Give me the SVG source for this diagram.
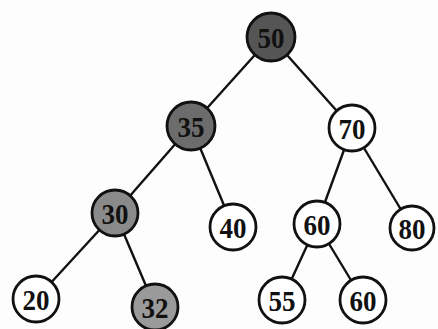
<svg xmlns="http://www.w3.org/2000/svg" width="438" height="329" viewBox="0 0 438 329">
<style>
.n circle{stroke:#111;stroke-width:2.8}
.n text{font-family:"Liberation Serif","Times New Roman",serif;font-weight:bold;font-size:29px;fill:#111;text-anchor:middle;dominant-baseline:central}
#edges line{stroke:#111;stroke-width:2.4}
</style>
<rect width="438" height="329" fill="#fdfdfd"/>
<g id="edges">
<line x1="271" y1="37" x2="191" y2="126"/>
<line x1="271" y1="37" x2="352" y2="128"/>
<line x1="191" y1="126" x2="115" y2="213"/>
<line x1="191" y1="126" x2="233" y2="227"/>
<line x1="352" y1="128" x2="317" y2="224"/>
<line x1="352" y1="128" x2="412" y2="228"/>
<line x1="115" y1="213" x2="36" y2="299"/>
<line x1="115" y1="213" x2="155" y2="307"/>
<line x1="317" y1="224" x2="282" y2="300"/>
<line x1="317" y1="224" x2="363" y2="300"/>
</g>
<g id="n50" class="n"><circle cx="271" cy="37" r="24" fill="#555"/><text x="271" y="38" textLength="27" lengthAdjust="spacingAndGlyphs">50</text></g>
<g id="n35" class="n"><circle cx="191" cy="126" r="24" fill="#6c6c6c"/><text x="191" y="127" textLength="27" lengthAdjust="spacingAndGlyphs">35</text></g>
<g id="n70" class="n"><circle cx="352" cy="128" r="23" fill="#fff"/><text x="352" y="129" textLength="27" lengthAdjust="spacingAndGlyphs">70</text></g>
<g id="n30" class="n"><circle cx="115" cy="213" r="23" fill="#8a8a8a"/><text x="115" y="214" textLength="27" lengthAdjust="spacingAndGlyphs">30</text></g>
<g id="n40" class="n"><circle cx="233" cy="227" r="23" fill="#fff"/><text x="233" y="228" textLength="27" lengthAdjust="spacingAndGlyphs">40</text></g>
<g id="n60a" class="n"><circle cx="317" cy="224" r="23" fill="#fff"/><text x="317" y="225" textLength="27" lengthAdjust="spacingAndGlyphs">60</text></g>
<g id="n80" class="n"><circle cx="412" cy="228" r="22" fill="#fff"/><text x="412" y="229" textLength="27" lengthAdjust="spacingAndGlyphs">80</text></g>
<g id="n20" class="n"><circle cx="36" cy="299" r="23" fill="#fff"/><text x="36" y="300" textLength="27" lengthAdjust="spacingAndGlyphs">20</text></g>
<g id="n32" class="n"><circle cx="155" cy="307" r="23" fill="#9a9a9a"/><text x="155" y="308" textLength="27" lengthAdjust="spacingAndGlyphs">32</text></g>
<g id="n55" class="n"><circle cx="282" cy="300" r="23" fill="#fff"/><text x="282" y="301" textLength="27" lengthAdjust="spacingAndGlyphs">55</text></g>
<g id="n60b" class="n"><circle cx="363" cy="300" r="23" fill="#fff"/><text x="363" y="301" textLength="27" lengthAdjust="spacingAndGlyphs">60</text></g>
</svg>
